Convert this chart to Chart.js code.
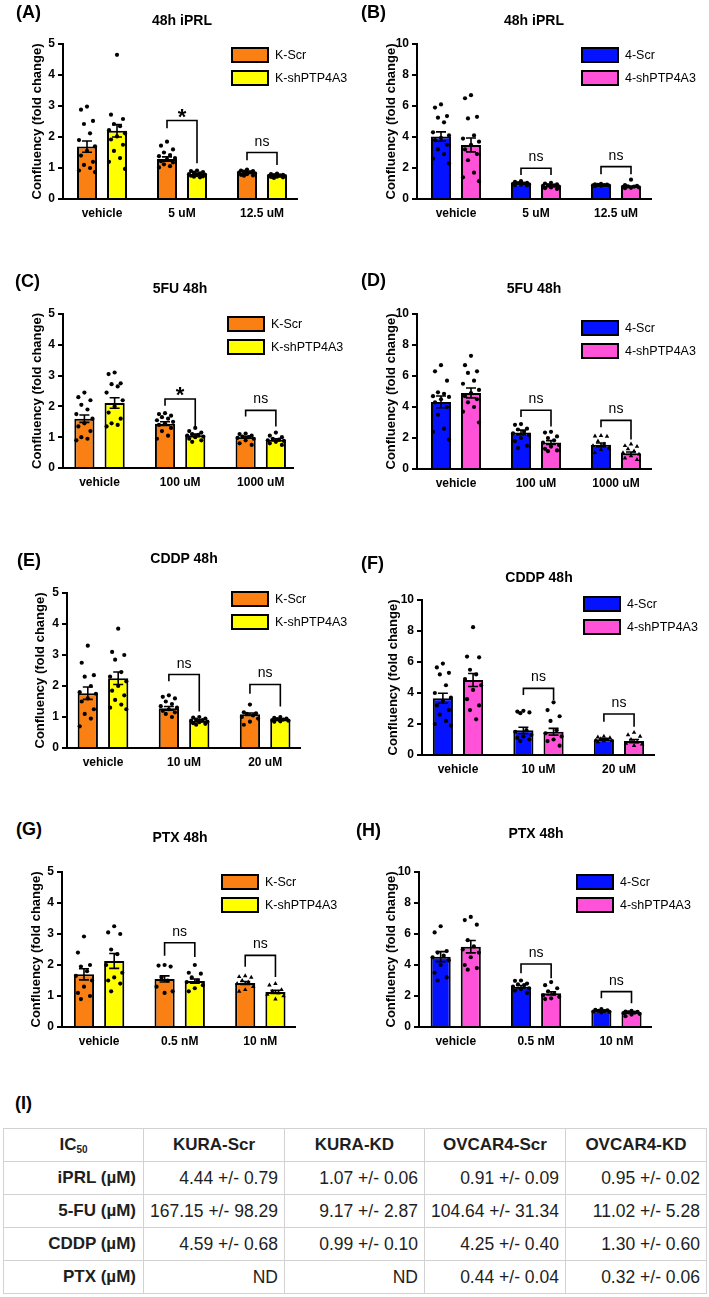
<!DOCTYPE html>
<html><head><meta charset="utf-8">
<script src="https://cdn.jsdelivr.net/npm/chart.js@4.4.1/dist/chart.umd.min.js"></script>
<style>
body{margin:0;background:#fff;width:709px;height:1297px;position:relative;overflow:hidden;font-family:'Liberation Sans',Arial,Helvetica,sans-serif;color:#000}
canvas{position:absolute}
.lbl{position:absolute;font-weight:bold;font-size:18px;line-height:1;transform:translateY(-50%);white-space:nowrap}
.ttl{position:absolute;font-weight:bold;font-size:14px;line-height:1;transform:translate(-50%,-50%);white-space:nowrap}
#tbl{position:absolute;left:3px;top:1128px;border-collapse:collapse;table-layout:fixed;color:#1e1e1e}
#tbl td,#tbl th{border:1px solid #d2d2d2;height:32px;padding:0 6px;font-size:17.5px;white-space:nowrap}
#tbl th{font-weight:bold;text-align:center;font-size:17px}
#tbl td{text-align:right}
#tbl td.rl{font-weight:bold;font-size:17px;padding-right:7px}
#tbl sub{font-size:10px;vertical-align:-3px}
</style></head><body>
<script>
// ---------------- DATA ----------------
const catsA = ['vehicle', '5 uM', '12.5 uM'];
const meanA1 = [1.69, 1.29, 0.86], semA1 = [0.18, 0.07, 0.03];
const meanA2 = [2.20, 0.81, 0.75], semA2 = [0.20, 0.03, 0.02];
const ptsA1 = [[2.98,2.88,2.52,2.42,2.12,1.9,1.7,1.55,1.4,1.2,1.1,1.0,0.92,0.87],[1.85,1.72,1.6,1.5,1.42,1.38,1.32,1.28,1.22,1.18,1.12,1.06,1.02],[0.95,0.92,0.9,0.88,0.86,0.85,0.83,0.8,0.78,0.76,0.75]];
const ptsA2 = [[4.65,2.72,2.58,2.42,2.35,2.22,2.12,2.02,1.92,1.75,1.55,1.32,1.2,0.97],[0.92,0.9,0.87,0.85,0.83,0.8,0.79,0.77,0.75,0.73,0.72,0.7],[0.82,0.8,0.78,0.77,0.76,0.75,0.74,0.72,0.71,0.7,0.68]];
const sigA = [null, {top:2.53, l:2.28, r:1.15, t:'*'}, {top:1.5, l:1.25, r:1.1, t:'ns'}];

const catsB = ['vehicle', '5 uM', '12.5 uM'];
const meanB1 = [4.03, 1.01, 0.90], semB1 = [0.30, 0.04, 0.03];
const meanB2 = [3.49, 0.86, 0.80], semB2 = [0.45, 0.05, 0.04];
const ptsB1 = [[6.1,5.9,5.35,5.25,4.95,4.3,4.1,3.95,3.8,3.5,3.2,2.9,2.6,2.3],[1.15,1.1,1.05,1.02,1.0,0.98,0.95,0.92,0.9,0.88],[0.98,0.95,0.93,0.92,0.9,0.88,0.87,0.85,0.83]];
const ptsB2 = [[6.7,6.5,5.3,5.2,4.1,3.9,3.7,3.5,3.2,2.9,2.5,1.7,1.4,1.15],[1.05,1.0,0.95,0.9,0.88,0.85,0.8,0.75,0.7,0.65],[1.25,0.9,0.85,0.82,0.8,0.78,0.75,0.72,0.7]];
const sigB = [null, {top:1.98, l:1.55, r:1.55, t:'ns'}, {top:2.09, l:1.6, r:1.6, t:'ns'}];

const catsC = ['vehicle', '100 uM', '1000 uM'];
const meanC1 = [1.60, 1.44, 1.00], semC1 = [0.12, 0.06, 0.03];
const meanC2 = [2.11, 1.06, 0.92], semC2 = [0.17, 0.04, 0.03];
const ptsC1 = [[2.45,2.3,2.2,2.05,1.9,1.75,1.6,1.45,1.35,1.2,1.0,0.95,0.9],[1.78,1.75,1.7,1.65,1.6,1.55,1.5,1.45,1.4,1.3,1.2,1.05,0.95],[1.12,1.1,1.05,1.02,1.0,0.98,0.95,0.9,0.8,0.75]];
const ptsC2 = [[3.1,3.05,2.75,2.72,2.65,2.45,2.2,2.0,1.8,1.6,1.45,1.4,1.35],[1.3,1.2,1.15,1.1,1.08,1.05,1.02,1.0,0.95,0.9,0.85],[1.15,1.05,1.0,0.95,0.92,0.9,0.88,0.85,0.8,0.75]];
const sigC = [null, {top:2.24, l:2.02, r:1.27, t:'*'}, {top:1.87, l:1.67, r:1.35, t:'ns'}];

const catsD = ['vehicle', '100 uM', '1000 uM'];
const meanD1 = [4.33, 2.36, 1.56], semD1 = [0.38, 0.15, 0.12];
const meanD2 = [4.91, 1.71, 1.02], semD2 = [0.32, 0.12, 0.08];
const ptsD1 = [[6.7,6.3,5.7,4.95,4.85,4.7,4.65,4.5,4.3,4.0,3.5,2.6,2.4,1.9],[2.9,2.85,2.6,2.55,2.4,2.3,2.2,2.0,1.8,1.5,1.35],[2.15,2.12,2.1,1.8,1.6,1.5,1.35,1.25,1.05]];
const ptsD2 = [[7.3,6.7,6.3,6.2,5.7,5.5,5.1,4.9,4.7,4.5,4.3,4.0,3.7,3.0],[2.4,2.35,2.1,2.0,1.85,1.7,1.55,1.45,1.3,1.2,1.15],[1.6,1.5,1.45,1.3,1.15,1.05,0.95,0.85,0.7,0.6]];
const sigD = [null, {top:3.79, l:3.35, r:2.75, t:'ns'}, {top:3.14, l:2.7, r:1.9, t:'ns'}];

const catsE = ['vehicle', '10 uM', '20 uM'];
const meanE1 = [1.77, 1.28, 1.09], semE1 = [0.20, 0.06, 0.04];
const meanE2 = [2.25, 0.88, 0.92], semE2 = [0.20, 0.03, 0.02];
const ptsE1 = [[3.3,2.75,2.35,2.3,2.0,1.8,1.75,1.6,1.5,1.25,1.1,0.95,0.7],[1.7,1.65,1.6,1.5,1.42,1.35,1.3,1.25,1.2,1.15,1.1,1.0],[1.4,1.15,1.12,1.1,1.05,1.0,0.95,0.85,0.75]];
const ptsE2 = [[3.85,3.1,3.0,2.85,2.45,2.3,2.15,2.0,1.85,1.7,1.55,1.4,1.3,1.25],[1.0,0.98,0.95,0.92,0.9,0.88,0.85,0.83,0.8,0.78,0.75],[1.0,0.97,0.95,0.93,0.92,0.9,0.88,0.86,0.85]];
const sigE = [null, {top:2.37, l:2.15, r:1.18, t:'ns'}, {top:2.05, l:1.75, r:1.34, t:'ns'}];

const catsF = ['vehicle', '10 uM', '20 uM'];
const meanF1 = [3.66, 1.59, 1.01], semF1 = [0.32, 0.20, 0.05];
const meanF2 = [4.84, 1.50, 0.90], semF2 = [0.42, 0.22, 0.10];
const ptsF1 = [[5.9,5.65,5.3,5.2,4.5,4.0,3.7,3.5,3.2,2.9,2.6,2.2,2.0,1.9],[2.85,2.8,2.75,2.7,1.6,1.5,1.3,1.2,1.1,1.0,0.9],[1.2,1.15,1.1,1.05,1.0,0.95,0.92,0.9,0.85]];
const ptsF2 = [[8.25,6.35,6.3,5.5,5.2,4.9,4.5,4.2,3.6,3.2,2.9,2.3],[3.4,2.9,2.5,2.2,1.6,1.4,1.2,1.0,0.9,0.6],[1.45,1.3,1.2,1.0,0.85,0.75,0.7,0.6]];
const sigF = [null, {top:4.3, l:3.87, r:3.55, t:'ns'}, {top:2.65, l:2.15, r:1.83, t:'ns'}];

const catsG = ['vehicle', '0.5 nM', '10 nM'];
const meanG1 = [1.70, 1.55, 1.42], semG1 = [0.18, 0.10, 0.05];
const meanG2 = [2.13, 1.48, 1.13], semG2 = [0.24, 0.07, 0.05];
const ptsG1 = [[2.92,2.4,2.0,1.95,1.8,1.65,1.5,1.3,1.1,1.0,0.9],[2.0,1.98,1.95,1.6,1.5,1.3,1.15,1.1],[1.65,1.62,1.6,1.5,1.45,1.4,1.3,1.2,1.15]];
const ptsG2 = [[3.25,3.05,3.0,2.5,2.35,2.0,1.75,1.6,1.5,1.4,1.15],[2.0,1.75,1.72,1.6,1.5,1.45,1.35,1.25,1.15],[1.4,1.35,1.2,1.15,1.1,1.05,1.0,0.9]];
const sigG = [null, {top:2.72, l:2.3, r:2.26, t:'ns'}, {top:2.31, l:1.94, r:1.61, t:'ns'}];

const catsH = ['vehicle', '0.5 nM', '10 nM'];
const meanH1 = [4.54, 2.60, 1.05], semH1 = [0.32, 0.08, 0.03];
const meanH2 = [5.18, 2.17, 0.95], semH2 = [0.40, 0.10, 0.04];
const ptsH1 = [[6.5,6.1,4.9,4.8,4.6,4.5,4.3,4.0,3.5,3.2,3.0],[3.0,2.98,2.8,2.75,2.7,2.6,2.5,2.45,2.35,2.2],[1.15,1.1,1.08,1.05,1.03,1.0,0.98,0.95]];
const ptsH2 = [[7.1,6.9,6.6,5.6,5.2,5.0,4.8,4.5,4.0,3.8,3.7],[2.9,2.7,2.5,2.3,2.15,2.05,1.95,1.85,1.8],[1.05,1.0,0.98,0.95,0.92,0.9,0.85,0.8,0.7]];
const sigH = [null, {top:4.06, l:3.46, r:3.14, t:'ns'}, {top:2.28, l:1.85, r:1.53, t:'ns'}];

const kuraLabels = ['K-Scr', 'K-shPTP4A3'];
const ovcarLabels = ['4-Scr', '4-shPTP4A3'];
const yTitle = 'Confluency (fold change)';

const tblHead = ['KURA-Scr', 'KURA-KD', 'OVCAR4-Scr', 'OVCAR4-KD'];
const tblRowLabels = ['iPRL (µM)', '5-FU (µM)', 'CDDP (µM)', 'PTX (µM)'];
const tblKuraScr = ['4.44 +/- 0.79', '167.15 +/- 98.29', '4.59 +/- 0.68', 'ND'];
const tblKuraKD = ['1.07 +/- 0.06', '9.17 +/- 2.87', '0.99 +/- 0.10', 'ND'];
const tblOvScr = ['0.91 +/- 0.09', '104.64 +/- 31.34', '4.25 +/- 0.40', '0.44 +/- 0.04'];
const tblOvKD = ['0.95 +/- 0.02', '11.02 +/- 5.28', '1.30 +/- 0.60', '0.32 +/- 0.06'];

// ---------------- LAYOUT / STYLE ----------------
const FAM = "'Liberation Sans', Arial, Helvetica, sans-serif";
Chart.defaults.font.family = FAM;
Chart.defaults.color = '#000';
const ORANGE = '#FA8014', YELLOW = '#FFFF00', BLUE = '#0512FF', PINK = '#FF52D9';
const CATP = 0.75, BARP = 0.667;
const JIT = [0, -0.075, 0.075, -0.038, 0.038, -0.1, 0.1];

const panels = [
  {L:'(A)', lx:16, ly:12, T:'48h iPRL', tx:182, ty:20, col:0, area:{l:63,t:44,r:297,b:199}, yt:37, xr:[-0.4875,2.4375], ymax:5, step:1, cats:catsA, m:[meanA1,meanA2], s:[semA1,semA2], p:[ptsA1,ptsA2], sig:sigA, lab:kuraLabels, col2:[ORANGE,YELLOW], leg:[232,48], tri:[]},
  {L:'(B)', lx:361, ly:12, T:'48h iPRL', tx:534, ty:20, col:1, area:{l:417,t:44,r:651,b:199}, yt:391, xr:[-0.4875,2.4375], ymax:10, step:2, cats:catsB, m:[meanB1,meanB2], s:[semB1,semB2], p:[ptsB1,ptsB2], sig:sigB, lab:ovcarLabels, col2:[BLUE,PINK], leg:[582,48], tri:[]},
  {L:'(C)', lx:15, ly:281, T:'5FU 48h', tx:180, ty:288, col:0, area:{l:63,t:314,r:293,b:468}, yt:37, xr:[-0.453,2.40], ymax:5, step:1, cats:catsC, m:[meanC1,meanC2], s:[semC1,semC2], p:[ptsC1,ptsC2], sig:sigC, lab:kuraLabels, col2:[ORANGE,YELLOW], leg:[228,317], tri:[]},
  {L:'(D)', lx:361, ly:280, T:'5FU 48h', tx:534, ty:288, col:1, area:{l:417,t:314,r:651,b:469}, yt:391, xr:[-0.4875,2.4375], ymax:10, step:2, cats:catsD, m:[meanD1,meanD2], s:[semD1,semD2], p:[ptsD1,ptsD2], sig:sigD, lab:ovcarLabels, col2:[BLUE,PINK], leg:[582,321], tri:[2]},
  {L:'(E)', lx:17, ly:560, T:'CDDP 48h', tx:184, ty:558, col:0, area:{l:67,t:593,r:300,b:748}, yt:40, xr:[-0.444,2.43], ymax:5, step:1, cats:catsE, m:[meanE1,meanE2], s:[semE1,semE2], p:[ptsE1,ptsE2], sig:sigE, lab:kuraLabels, col2:[ORANGE,YELLOW], leg:[232,592], tri:[]},
  {L:'(F)', lx:361, ly:563, T:'CDDP 48h', tx:539, ty:577, col:1, area:{l:422,t:600,r:654,b:755}, yt:393, xr:[-0.447,2.435], ymax:10, step:2, cats:catsF, m:[meanF1,meanF2], s:[semF1,semF2], p:[ptsF1,ptsF2], sig:sigF, lab:ovcarLabels, col2:[BLUE,PINK], leg:[584,597], tri:[2]},
  {L:'(G)', lx:16, ly:829, T:'PTX 48h', tx:180, ty:837, col:0, area:{l:62,t:872,r:295,b:1027}, yt:36, xr:[-0.46,2.43], ymax:5, step:1, cats:catsG, m:[meanG1,meanG2], s:[semG1,semG2], p:[ptsG1,ptsG2], sig:sigG, lab:kuraLabels, col2:[ORANGE,YELLOW], leg:[222,875], tri:[2]},
  {L:'(H)', lx:356, ly:830, T:'PTX 48h', tx:536, ty:833, col:1, area:{l:419,t:872,r:651,b:1027}, yt:391, xr:[-0.457,2.43], ymax:10, step:2, cats:catsH, m:[meanH1,meanH2], s:[semH1,semH2], p:[ptsH1,ptsH2], sig:sigH, lab:ovcarLabels, col2:[BLUE,PINK], leg:[577,875], tri:[]}
];

function addDiv(cls, text, x, y) {
  const d = document.createElement('div');
  d.className = cls; d.textContent = text;
  d.style.left = x + 'px'; d.style.top = y + 'px';
  document.body.appendChild(d);
}

function makePanel(P) {
  const x0 = P.col * 354, W = 354;
  const top = P.area.t - 30, H = P.area.b - P.area.t + 60;
  const cv = document.createElement('canvas');
  cv.width = W; cv.height = H;
  cv.style.left = x0 + 'px'; cv.style.top = top + 'px';
  cv.style.width = W + 'px'; cv.style.height = H + 'px';
  document.body.appendChild(cv);
  const padLeft = P.yt - x0 - 11.8;
  const yW = P.area.l - x0 - padLeft;
  const padRight = x0 + W - P.area.r;

  const datasets = [];
  [0, 1].forEach(d => {
    datasets.push({
      type: 'bar', label: P.lab[d],
      data: P.m[d].map((v, i) => ({x: i, y: v})),
      backgroundColor: P.col2[d], borderColor: '#000', borderWidth: 2,
      borderSkipped: 'start', categoryPercentage: CATP, barPercentage: BARP, order: 2
    });
  });
  [0, 1].forEach(d => {
    const sgn = d === 0 ? -1 : 1;
    const pts = [];
    P.p[d].forEach((arr, i) => arr.forEach((v, k) => pts.push({x: i + sgn * CATP / 4 + JIT[k % JIT.length], y: v, c: i})));
    datasets.push({
      type: 'scatter', data: pts, order: 1,
      backgroundColor: '#000', borderColor: '#000', borderWidth: 0,
      pointStyle: ctx => (ctx.raw && P.tri.includes(ctx.raw.c)) ? 'triangle' : 'circle',
      pointRadius: ctx => (ctx.raw && P.tri.includes(ctx.raw.c)) ? 2.6 : 2.1
    });
  });

  const extras = {
    id: 'extras',
    afterDatasetsDraw(chart) {
      const ctx = chart.ctx, ys = chart.scales.y;
      ctx.save();
      ctx.strokeStyle = '#000'; ctx.lineWidth = 1.6; ctx.lineCap = 'butt';
      // error bars (mean +/- SEM)
      [0, 1].forEach(d => {
        chart.getDatasetMeta(d).data.forEach((bar, i) => {
          const m = P.m[d][i], s = P.s[d][i];
          const yt = ys.getPixelForValue(m + s), yb = ys.getPixelForValue(m - s);
          ctx.beginPath();
          ctx.moveTo(bar.x, yt); ctx.lineTo(bar.x, yb);
          ctx.moveTo(bar.x - 5, yt); ctx.lineTo(bar.x + 5, yt);
          ctx.moveTo(bar.x - 5, yb); ctx.lineTo(bar.x + 5, yb);
          ctx.stroke();
        });
      });
      // significance brackets
      const m0 = chart.getDatasetMeta(0).data, m1 = chart.getDatasetMeta(1).data;
      P.sig.forEach((b, i) => {
        if (!b) return;
        const xl = m0[i].x, xr = m1[i].x;
        const yt = ys.getPixelForValue(b.top);
        ctx.beginPath();
        ctx.moveTo(xl, ys.getPixelForValue(b.l));
        ctx.lineTo(xl, yt); ctx.lineTo(xr, yt);
        ctx.lineTo(xr, ys.getPixelForValue(b.r));
        ctx.stroke();
        ctx.fillStyle = '#000'; ctx.textAlign = 'center'; ctx.textBaseline = 'alphabetic';
        if (b.t === '*') { ctx.font = 'bold 22px ' + FAM; ctx.fillText('*', (xl + xr) / 2, yt + 3); }
        else { ctx.font = '14px ' + FAM; ctx.fillText(b.t, (xl + xr) / 2, yt - 7); }
      });
      ctx.restore();
    },
    afterDraw(chart) {
      const ctx = chart.ctx;
      const lx = P.leg[0] - x0, ly = P.leg[1] - top;
      ctx.save();
      [0, 1].forEach(d => {
        const y = ly + d * 23;
        ctx.fillStyle = P.col2[d]; ctx.fillRect(lx, y, 36, 14);
        ctx.strokeStyle = '#000'; ctx.lineWidth = 2; ctx.strokeRect(lx, y, 36, 14);
        ctx.fillStyle = '#000'; ctx.font = '12.5px ' + FAM;
        ctx.textAlign = 'left'; ctx.textBaseline = 'middle';
        ctx.fillText(P.lab[d], lx + 43, y + 7.5);
      });
      ctx.restore();
    }
  };

  new Chart(cv, {
    type: 'bar',
    data: {datasets},
    options: {
      responsive: false, animation: false,
      layout: {padding: {left: padLeft, right: padRight, top: 30, bottom: 0}},
      plugins: {legend: {display: false}, tooltip: {enabled: false}, title: {display: false}},
      scales: {
        x: {
          type: 'linear', min: P.xr[0], max: P.xr[1], offset: false,
          afterBuildTicks: s => { s.ticks = P.cats.map((_, i) => ({value: i})); },
          afterFit: s => { s.height = 30; },
          ticks: {callback: v => P.cats[v], font: {weight: 'bold', size: 12}, color: '#000', padding: 7, maxRotation: 0, autoSkip: false},
          grid: {display: false, drawTicks: false},
          border: {display: true, color: '#000', width: 2}
        },
        y: {
          type: 'linear', min: 0, max: P.ymax,
          afterFit: s => { s.width = yW; },
          ticks: {stepSize: P.step, font: {weight: 'bold', size: 12}, color: '#000', padding: 3},
          grid: {display: true, drawOnChartArea: false, drawTicks: true, tickLength: 5, color: '#000', lineWidth: 2},
          border: {display: true, color: '#000', width: 2},
          title: {display: true, text: yTitle, font: {weight: 'bold', size: 13}, color: '#000', padding: {top: 4, bottom: 4}}
        }
      }
    },
    plugins: [extras]
  });
  addDiv('lbl', P.L, P.lx, P.ly);
  addDiv('ttl', P.T, P.tx, P.ty);
}

panels.forEach(makePanel);
addDiv('lbl', '(I)', 15, 1103);

// ---------------- TABLE ----------------
(function () {
  const t = document.createElement('table'); t.id = 'tbl';
  const widths = [140, 140, 140, 140, 141];
  const cg = document.createElement('colgroup');
  widths.forEach(w => { const c = document.createElement('col'); c.style.width = w + 'px'; cg.appendChild(c); });
  t.appendChild(cg);
  const hr = document.createElement('tr');
  const h0 = document.createElement('th'); h0.innerHTML = 'IC<sub>50</sub>'; hr.appendChild(h0);
  tblHead.forEach(h => { const th = document.createElement('th'); th.textContent = h; hr.appendChild(th); });
  t.appendChild(hr);
  tblRowLabels.forEach((r, i) => {
    const tr = document.createElement('tr');
    const c0 = document.createElement('td'); c0.className = 'rl'; c0.textContent = r; tr.appendChild(c0);
    [tblKuraScr, tblKuraKD, tblOvScr, tblOvKD].forEach(col => { const td = document.createElement('td'); td.textContent = col[i]; tr.appendChild(td); });
    t.appendChild(tr);
  });
  document.body.appendChild(t);
})();
</script>
</body></html>
